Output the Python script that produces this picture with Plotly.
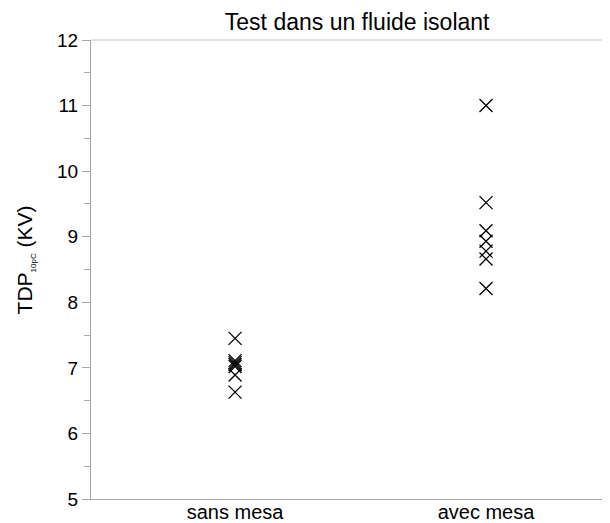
import plotly.graph_objects as go

categories = ["sans mesa", "avec mesa"]
sans_mesa = [7.45, 7.11, 7.08, 7.05, 7.02, 6.89, 6.63]
avec_mesa = [11.0, 9.52, 9.09, 8.93, 8.78, 8.66, 8.21]
y_ticks = [5, 6, 7, 8, 9, 10, 11, 12]

xs = [categories[0]] * len(sans_mesa) + [categories[1]] * len(avec_mesa)
ys = sans_mesa + avec_mesa

FONT = "Liberation Sans, Arial, sans-serif"

fig = go.Figure()
fig.add_trace(go.Scatter(
    x=xs, y=ys, mode="markers",
    marker=dict(symbol="x-thin-open", size=13, color="black",
                line=dict(color="black", width=1.3)),
    showlegend=False, hoverinfo="skip",
))

fig.update_layout(
    width=602, height=515,
    margin=dict(l=83, r=0, t=32, b=24, autoexpand=False),
    plot_bgcolor="white", paper_bgcolor="white",
    font=dict(family=FONT, color="black", size=18),
    title=dict(text="Test dans un fluide isolant", x=0.58, xanchor="center",
               y=0.973, yanchor="middle", font=dict(size=23, family=FONT)),
    xaxis=dict(
        type="category", range=[-0.574, 1.494], automargin=False,
        showline=True, linecolor="#a6a6a6", linewidth=1,
        showgrid=False, zeroline=False, ticks="",
        tickfont=dict(size=20), ticklabelstandoff=-5,
    ),
    yaxis=dict(
        range=[5, 12], tickvals=y_ticks, ticktext=[str(v) for v in y_ticks],
        automargin=False,
        showline=True, linecolor="#a6a6a6", linewidth=1,
        showgrid=False, zeroline=False,
        ticks="outside", ticklen=8, tickcolor="#a6a6a6", tickwidth=1,
        minor=dict(dtick=0.5, ticks="outside", ticklen=6, tickcolor="#a6a6a6", tickwidth=1, showgrid=False),
        tickfont=dict(size=19),
    ),
)
fig.add_annotation(
    text="TDP<sub><span style='font-size:8px'>10pC</span></sub> (KV)",
    xref="paper", yref="paper", x=-0.127, y=0.52,
    xanchor="center", yanchor="middle", textangle=-90, showarrow=False,
    font=dict(size=21, family=FONT, color="black"),
)
fig.add_shape(type="line", xref="paper", yref="paper", x0=0, x1=1, y0=1, y1=1,
              line=dict(color="#d9d9d9", width=1.5), layer="below")

fig.write_html("out.html")
